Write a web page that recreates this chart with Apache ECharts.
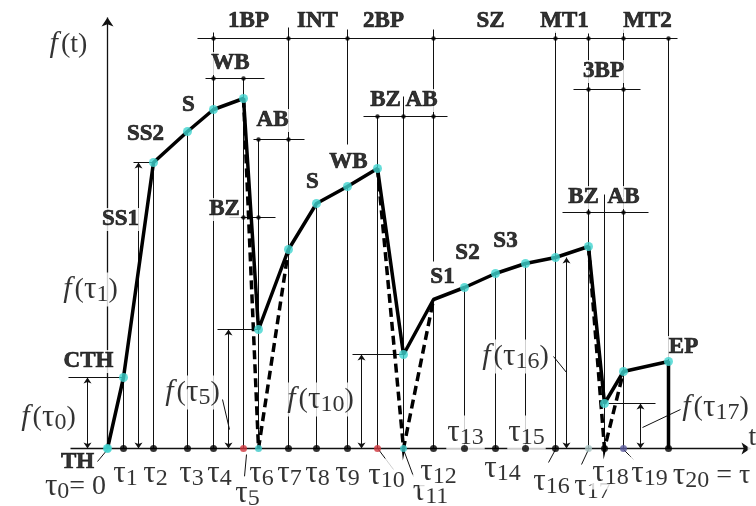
<!DOCTYPE html>
<html><head><meta charset="utf-8">
<script src="https://cdn.jsdelivr.net/npm/echarts@6/dist/echarts.min.js"></script>
<style>html,body{margin:0;padding:0;background:#fff}#c{width:756px;height:506px}</style>
</head><body><div id="c"></div>
<script>
// time instants τ0..τ20 (horizontal position on the t axis)
const TAU = [107,123,153,187,213,243,258,288,316,347,377,403,433,464,495,525,555,588,604,623,668];
// process value f(τi) at each instant
const F = [0,71,286,317,339,350,119,199,245,262,280,94,149,161,175,185,191,202,45,77,87];
// ideal drops to zero (dashed): [peak, zero, recovered] indices
const DROPS = [[5,6,7],[10,11,12],[17,18,19]];
// points marked with cyan dots on the curve
const CYAN_IDX = [0,1,2,3,4,5,6,7,8,9,10,11,13,14,15,16,17,18,19,20];
// colours of the dots on the t axis (others black)
const BASE_COLORS = {0:'#3cc8c8',5:'#d0343c',6:'#3cc8c8',10:'#d0343c',11:'#3cc8c8',17:'#a9c4c4',19:'#5a5a9c'};
// phase bracket rows: level, extent, tick positions
const PHASE_ROWS = [
  {v:410, x:[197,677], ticks:[213,288,347,433,555,588,623,668]},
  {v:370, x:[205,264], ticks:[213,243]},
  {v:359, x:[573,640], ticks:[588,623]},
  {v:332, x:[363,447], ticks:[377,403,433]},
  {v:309, x:[253,304], ticks:[258,288]},
  {v:236, x:[562,648], ticks:[588,623]},
  {v:231, x:[229,275], ticks:[243,258]}
];
// vertical guide lines: x, from, to
const GUIDES = [[123,0,71],[153,0,286],[187,0,317],[213,0,416],[243,0,370],[258,0,309],[288,0,421],[316,0,245],
  [347,0,262],[347,304,419],[377,0,332],[403,0,352],[433,0,149],[433,187,419],[464,0,161],[495,0,175],[525,0,185],
  [555,0,417],[588,0,415],[604,0,254],[623,0,419],[668,0,410]];
// level arrows f(τk): arrow x, index of value in F, reference line from/to
const LEVELS = [[87,1,68,123],[138,2,133,152],[228,6,217,258],[361,11,352,403],[566,16,null,null],[640,18,608,655]];
// leader strokes from labels
const LEADERS = [[97,-13,107,-1],[246,-6,244,-28],[378,-1,393,-21],[403,-1,413,-28],[555,-1,548,-14],
  [588,-1,581,-16],[623,-1,633,-11],[222,49,229,19],[553,92,566,76],[680,39,642,21]];
// bold tags
const TAGS = [['1BP',248,427],['INT',317,427],['2BP',383,427],['SZ',490,427],['MT1',564,427],['MT2',647,427],
  ['WB',230,385],['3BP',603,377],['AB',272,328],['BZ',224,239],['BZ',385,348],['AB',421,348],['BZ',583,251],['AB',623,251],
  ['S',188,343],['SS2',145,314],['SS1',120,229],['CTH',88,87],['S',312,266],['WB',348,286],['S1',442,171],
  ['S2',467,195],['S3',505,207],['EP',683,101],['TH',77,-14]];
// formula labels
const MATH = [['{fi|f}{n|(t)}',68,404],['{fi|f}{n|(}{t|τ}{s|1}{n|)}',90,159],['{fi|f}{n|(}{t|τ}{s|0}{n|)}',48,31],
  ['{fi|f}{n|(}{t|τ}{s|5}{n|)}',192,56],['{fi|f}{n|(}{t|τ}{s|10}{n|)}',320,49],['{fi|f}{n|(}{t|τ}{s|16}{n|)}',515,92],
  ['{fi|f}{n|(}{t|τ}{s|17}{n|)}',715,41]];
// τ labels: index, x, level
const TAU_LABELS = [[1,125,-25],[2,155,-25],[3,191,-25],[4,219,-25],[5,247,-45],[6,261,-25],[7,289,-25],[8,317,-25],
  [9,347,-25],[10,386,-27],[11,430,-43],[12,438,-23],[13,465,16],[14,502,-20],[15,526,16],[16,551,-33],[17,592,-38],
  [18,610,-24],[19,649,-25]];
const TAU_EXTRA = [['{t|τ}{s|0}{n|= 0}',75,-38],['{t|τ}{s|20}{n| = τ}',711,-27],['{n|t}',752,11]];

const ink = '#000';
const noBorder = {textBorderWidth:0,textBorderColor:'transparent',textShadowBlur:0};
const rich = {
  fi:{fontFamily:'Liberation Serif',fontStyle:'italic',fontSize:30,color:ink,padding:[0,3,0,0],...noBorder},
  n:{fontFamily:'Liberation Serif',fontSize:28,color:ink,...noBorder},
  t:{fontFamily:'Liberation Serif',fontSize:31,color:ink,...noBorder},
  s:{fontFamily:'Liberation Serif',fontSize:24,color:ink,padding:[10,0,0,0],...noBorder}
};
const seg = (x1,y1,x2,y2)=>({coords:[[x1,y1],[x2,y2]]});
const thin = {color:'#111',width:1,opacity:1};

const thinData = [
  ...GUIDES.map(g=>seg(g[0],g[1],g[0],g[2])),
  ...PHASE_ROWS.map(r=>seg(r.x[0],r.v,r.x[1],r.v)),
  ...LEVELS.filter(l=>l[2]!==null).map(l=>seg(l[2],F[l[1]],l[3],F[l[1]])),
  ...LEADERS.map(l=>seg(l[0],l[1],l[2],l[3]))
];
const labelSeries = (items, extra)=>({
  type:'scatter', z:3, silent:true, symbolSize:1, itemStyle:{color:'#fff'},
  data: items.map(it=>({value:[it[1],it[2]], name:it[0]})),
  label:Object.assign({show:true, position:'inside', color:ink, formatter:p=>p.name, rich:rich,
    backgroundColor:'#fff', padding:[0,1], ...noBorder}, extra||{})
});

const option = {
  animation:false,
  backgroundColor:'#fff',
  grid:{left:0,right:0,top:0,bottom:0},
  xAxis:{type:'value',min:-0.5,max:755.5,show:false},
  yAxis:{type:'value',min:-57.5,max:448.5,show:false},
  series:[
    {type:'lines',coordinateSystem:'cartesian2d',z:1,silent:true,symbol:'none',lineStyle:thin,data:thinData},
    {type:'lines',coordinateSystem:'cartesian2d',z:1,silent:true,symbol:['arrow','arrow'],symbolSize:6,lineStyle:thin,
      data:LEVELS.map(l=>seg(l[0],0,l[0],F[l[1]]))},
    {type:'lines',coordinateSystem:'cartesian2d',z:1,silent:true,symbol:['none','arrow'],symbolSize:[0,9],
      lineStyle:{color:'#111',width:1.3,opacity:1},data:[seg(107,0,107,431),seg(70,0,750,0)]},
    labelSeries(TAGS, {fontFamily:'Liberation Serif', fontWeight:'bold', fontSize:23, textBorderColor:'#000', textBorderWidth:0.7}),
    labelSeries(MATH),
    labelSeries(TAU_LABELS.map(t=>['{t|τ}{s|'+t[0]+'}',t[1],t[2]])),
    labelSeries(TAU_EXTRA),
    {type:'lines',coordinateSystem:'cartesian2d',polyline:true,z:4,silent:true,symbol:'none',
      lineStyle:{color:'#000',width:3.5,type:[9,5],opacity:1},
      data:DROPS.map(d=>({coords:d.map((k,j)=>[TAU[k], j===1?0:F[k]])}))},
    {type:'line',z:5,silent:true,showSymbol:false,lineStyle:{color:'#000',width:3.5},
      data:[...TAU.map((t,i)=>[t,F[i]]),[TAU[20],0]]},
    {type:'scatter',z:6,silent:true,symbolSize:7,
      data:TAU.map((t,i)=>({value:[t,0],itemStyle:{color:BASE_COLORS[i]||'#000'}}))},
    {type:'scatter',z:6,silent:true,symbolSize:4.5,itemStyle:{color:'#000'},
      data:PHASE_ROWS.flatMap(r=>r.ticks.map(x=>[x,r.v]))},
    {type:'scatter',z:7,silent:true,symbolSize:9,itemStyle:{color:'#40d4d0'},
      data:CYAN_IDX.map(i=>[TAU[i],F[i]])}
  ]
};
const chart = echarts.init(document.getElementById('c'));
chart.setOption(option);
</script></body></html>
